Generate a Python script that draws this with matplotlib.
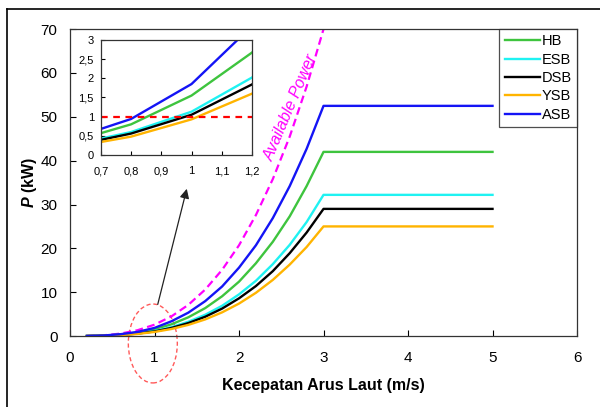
import numpy as np
import matplotlib
matplotlib.use("Agg")
import matplotlib.pyplot as plt
from matplotlib.patches import Ellipse
from matplotlib.lines import Line2D

plt.rcParams['font.family'] = ['Liberation Sans Narrow', 'Liberation Sans', 'DejaVu Sans']
plt.rcParams['mathtext.fontset'] = 'custom'
plt.rcParams['mathtext.bfit'] = 'Liberation Sans:italic:bold'
plt.rcParams['mathtext.it'] = 'Liberation Sans:italic'

# current speed (m/s)
v = [0.2, 0.4, 0.6, 0.8, 1.0, 1.2, 1.4, 1.6, 1.8, 2.0, 2.2, 2.4, 2.6, 2.8, 3.0, 5.0]
# turbine power (kW)
hb  = [0.01, 0.10, 0.34, 0.80, 1.55, 2.67, 4.27, 6.37, 9.07, 12.4, 16.6, 21.5, 27.3, 34.2, 42.0, 42.0]
esb = [0.01, 0.08, 0.26, 0.60, 1.13, 2.02, 3.25, 4.85, 6.90, 9.5, 12.6, 16.4, 20.8, 26.0, 32.2, 32.2]
dsb = [0.01, 0.07, 0.23, 0.56, 1.05, 1.84, 2.95, 4.40, 6.26, 8.6, 11.4, 14.8, 18.9, 23.6, 29.0, 29.0]
ysb = [0.01, 0.06, 0.20, 0.48, 0.93, 1.60, 2.54, 3.79, 5.40, 7.4, 9.86, 12.8, 16.3, 20.3, 25.0, 25.0]
asb = [0.02, 0.12, 0.42, 0.94, 1.85, 3.36, 5.33, 7.96, 11.3, 15.6, 20.7, 26.9, 34.2, 42.7, 52.5, 52.5]
# available power
v_av = [0.2, 0.4, 0.6, 0.8, 1.0, 1.2, 1.4, 1.6, 1.8, 2.0, 2.2, 2.4, 2.6, 2.8, 3.0, 3.1]
p_av = [0.02, 0.17, 0.56, 1.33, 2.59, 4.48, 7.11, 10.6, 15.1, 20.7, 27.6, 35.8, 45.5, 56.9, 70.0, 77.2]

names  = ['HB', 'ESB', 'DSB', 'YSB', 'ASB']
series = [hb, esb, dsb, ysb, asb]
colors = ['#3ec43e', '#1ff2f2', '#000000', '#ffb400', '#1414f5']

fig = plt.figure(figsize=(6.0, 4.07), dpi=100)
ax = fig.add_axes([0.1167, 0.1744, 0.845, 0.754])

ax.plot(v_av, p_av, color='#ff00ff', lw=1.6, ls=(0, (3.5, 2)))
for name, s, c in zip(names, series, colors):
    ax.plot(v, s, color=c, lw=1.7, label=name)

ax.set_xlim(0, 6)
ax.set_ylim(0, 70)
ax.set_xticks(range(0, 7))
ax.set_yticks(range(0, 71, 10))
ax.tick_params(direction='in', length=4, labelsize=11, width=0.8)
ax.tick_params(axis='x', pad=11)
ax.tick_params(axis='y', pad=9)
for sp in ax.spines.values():
    sp.set_linewidth(0.9)
    sp.set_color('#333333')
ax.set_xlabel('Kecepatan Arus Laut (m/s)', fontsize=11.5, fontweight='bold', labelpad=9)
ax.set_ylabel(r'$\mathbfit{P}$ (kW)', fontsize=11.5, fontweight='bold', labelpad=1)

leg = ax.legend(loc='upper right', fontsize=10.5, frameon=True, fancybox=False,
                shadow=False, borderaxespad=0.0, handlelength=2.4, handletextpad=0.15,
                labelspacing=0.3, borderpad=0.35)
leg.get_frame().set_edgecolor('#222222')
leg.get_frame().set_linewidth(0.9)

ax.text(2.61, 52.0, 'Available Power', color='#ff00ff', style='italic', fontsize=11.5,
        rotation=67, ha='center', va='center')

ax.add_patch(Ellipse((0.98, -1.7), 0.58, 18, fill=False, ec='#ff5a5a', ls=(0, (3, 2)),
                     lw=1.0, clip_on=False))
ax.annotate('', xy=(1.39, 34.2), xytext=(1.03, 6.6),
            arrowprops=dict(arrowstyle='-|>', color='#222222', lw=0.9,
                            mutation_scale=14))

# inset zoom
axi = fig.add_axes([0.168, 0.619, 0.252, 0.283])
for s, c in zip(series, colors):
    axi.plot(v, s, color=c, lw=1.7)
axi.plot([0.7, 1.2], [1, 1], color='#ff0000', lw=1.6, ls=(0, (3, 2.5)))
axi.set_xlim(0.7, 1.2)
axi.set_ylim(0, 3)
axi.set_xticks([0.7, 0.8, 0.9, 1.0, 1.1, 1.2])
axi.set_xticklabels(['0,7', '0,8', '0,9', '1', '1,1', '1,2'])
axi.set_yticks([0, 0.5, 1, 1.5, 2, 2.5, 3])
axi.set_yticklabels(['0', '0,5', '1', '1,5', '2', '2,5', '3'])
axi.tick_params(direction='in', length=3, labelsize=8, width=0.8)
axi.tick_params(axis='x', pad=8)
axi.tick_params(axis='y', pad=5)
for sp in axi.spines.values():
    sp.set_linewidth(0.9)
    sp.set_color('#333333')

# outer frame (left and top)
fig.add_artist(Line2D([7 / 600, 7 / 600], [0, 1 - 9 / 407], color='black', lw=1.2))
fig.add_artist(Line2D([7 / 600, 1], [1 - 9 / 407, 1 - 9 / 407], color='black', lw=1.2))

fig.savefig('out.png', dpi=100)
